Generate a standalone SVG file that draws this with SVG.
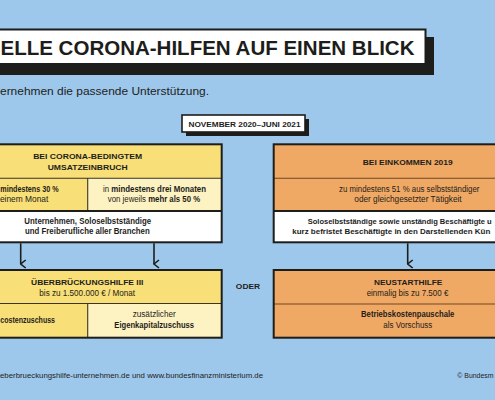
<svg xmlns="http://www.w3.org/2000/svg" width="495" height="400" viewBox="0 0 495 400">
<defs>
<style>
text{font-family:"Liberation Sans",Arial,sans-serif;fill:#1d1d1b}
.h{font-weight:bold;font-size:7.6px}
.t{font-size:8.4px}
.b{font-weight:bold}
.sb{font-weight:bold;font-size:8.2px}
.c{text-anchor:middle}
.outer{fill:none;stroke:#1d1d1b;stroke-width:2}
.div{stroke:#3b3526;stroke-width:1.1;fill:none}
.divo{stroke:#6e4827;stroke-width:1.1;fill:none}
.yel{fill:#f8df77}
.cre{fill:#fdf2c1}
.ora{fill:#f0a964}
.wht{fill:#ffffff}
.arr{stroke:#1d1d1b;stroke-width:1.6;fill:none}
</style>
<marker id="ah" viewBox="0 0 10 10" refX="5" refY="9" markerWidth="10" markerHeight="10" markerUnits="userSpaceOnUse" orient="auto-start-reverse">
<path d="M1,4 L5,9 L9,4" fill="none" stroke="#1d1d1b" stroke-width="1.6"/>
</marker>
</defs>
<rect x="0" y="0" width="495" height="400" fill="#9dc8ec"/>

<g id="title">
<rect x="-10" y="37" width="444" height="38" fill="#1d1d1b"/>
<rect x="-10" y="29.5" width="435.5" height="34.5" fill="#ffffff" stroke="#1d1d1b" stroke-width="2"/>
<text x="0.5" y="55" font-size="20.5" font-weight="bold" textLength="414" lengthAdjust="spacingAndGlyphs">ELLE CORONA-HILFEN AUF EINEN BLICK</text>
</g>

<g id="subtitle">
<text x="0" y="95" font-size="10.5" textLength="209" lengthAdjust="spacingAndGlyphs">ernehmen die passende Unterstützung.</text>
</g>

<g id="period">
<rect x="186" y="119" width="123" height="17" fill="#1d1d1b"/>
<rect x="182" y="115" width="123" height="17" fill="#ffffff" stroke="#1d1d1b" stroke-width="1.6"/>
<text class="h c" x="244.5" y="126.8" textLength="112" lengthAdjust="spacingAndGlyphs">NOVEMBER 2020–JUNI 2021</text>
</g>

<g id="corona-bedingt">
<rect class="yel" x="-46" y="144.3" width="268" height="34"/>
<rect class="yel" x="-46" y="178.3" width="133.7" height="32.7"/>
<rect class="cre" x="87.7" y="178.3" width="134" height="32.7"/>
<rect class="wht" x="-46" y="211" width="268" height="31.3"/>
<line class="div" x1="-46" y1="178.3" x2="221.7" y2="178.3"/>
<line class="div" x1="87.7" y1="178.3" x2="87.7" y2="211"/>
<line class="outer" x1="-46" y1="211" x2="221.7" y2="211"/>
<rect class="outer" x="-46" y="144.3" width="267.7" height="98"/>
<text class="h c" x="87.7" y="159" textLength="109" lengthAdjust="spacingAndGlyphs">BEI CORONA-BEDINGTEM</text>
<text class="h c" x="87.7" y="169.5" textLength="80" lengthAdjust="spacingAndGlyphs">UMSATZEINBRUCH</text>
<text class="t b" x="0.3" y="191.7" textLength="58.3" lengthAdjust="spacingAndGlyphs">mindestens 30 %</text>
<text class="t" x="48.3" y="202.3" text-anchor="end">einem Monat</text>
<text class="t c" x="154.5" y="191.7" textLength="103" lengthAdjust="spacingAndGlyphs">in <tspan class="b">mindestens drei Monaten</tspan></text>
<text class="t c" x="154" y="202.3" textLength="92.3" lengthAdjust="spacingAndGlyphs">von jeweils <tspan class="b">mehr als 50 %</tspan></text>
<text class="sb c" x="87.7" y="223.5" textLength="126.7" lengthAdjust="spacingAndGlyphs">Unternehmen, Soloselbstständige</text>
<text class="sb c" x="87.4" y="234.2" textLength="124.7" lengthAdjust="spacingAndGlyphs">und Freiberufliche aller Branchen</text>
</g>

<g id="einkommen">
<rect class="ora" x="273.7" y="144.3" width="268" height="66.7"/>
<rect class="wht" x="273.7" y="211" width="268" height="31.3"/>
<line class="divo" x1="273.7" y1="178.3" x2="541.7" y2="178.3"/>
<line class="outer" x1="273.7" y1="211" x2="541.7" y2="211"/>
<rect class="outer" x="273.7" y="144.3" width="268" height="98"/>
<text class="h c" x="407.7" y="165" textLength="90" lengthAdjust="spacingAndGlyphs">BEI EINKOMMEN 2019</text>
<text class="t c" x="409.2" y="191.7" textLength="140.3" lengthAdjust="spacingAndGlyphs">zu mindestens 51 % aus selbstständiger</text>
<text class="t c" x="408" y="202.3" textLength="107.3" lengthAdjust="spacingAndGlyphs">oder gleichgesetzter Tätigkeit</text>
<text x="307.7" y="223.5" font-weight="bold" font-size="7.5" textLength="184" lengthAdjust="spacingAndGlyphs">Soloselbstständige sowie unständig Beschäftigte u</text>
<text x="292.3" y="234.2" font-weight="bold" font-size="7.9" textLength="198" lengthAdjust="spacingAndGlyphs">kurz befristet Beschäftigte in den Darstellenden Kün</text>
</g>

<g id="connectors">
<line class="arr" x1="20.7" y1="243.3" x2="20.7" y2="264" marker-end="url(#ah)"/>
<line class="arr" x1="154" y1="243.3" x2="154" y2="264" marker-end="url(#ah)"/>
<line class="arr" x1="407.7" y1="243.3" x2="407.7" y2="264" marker-end="url(#ah)"/>
</g>

<g id="ueberbrueckungshilfe">
<rect class="yel" x="-46" y="270" width="268" height="33.5"/>
<rect class="yel" x="-46" y="303.5" width="133.7" height="34.2"/>
<rect class="cre" x="87.7" y="303.5" width="134" height="34.2"/>
<line class="div" x1="-46" y1="303.5" x2="221.7" y2="303.5"/>
<line class="div" x1="87.7" y1="303.5" x2="87.7" y2="337.7"/>
<rect class="outer" x="-46" y="270" width="267.7" height="67.7"/>
<text class="h c" x="87.2" y="285" textLength="112.3" lengthAdjust="spacingAndGlyphs">ÜBERBRÜCKUNGSHILFE III</text>
<text class="t c" x="87.2" y="295.8" textLength="95.7" lengthAdjust="spacingAndGlyphs">bis zu 1.500.000 € / Monat</text>
<text class="sb" x="0.3" y="323.3" textLength="54.7" lengthAdjust="spacingAndGlyphs">costenzuschuss</text>
<text class="t c" x="154.2" y="316.8" textLength="43" lengthAdjust="spacingAndGlyphs">zusätzlicher</text>
<text class="sb c" x="154.2" y="327.8" textLength="79.7" lengthAdjust="spacingAndGlyphs">Eigenkapitalzuschuss</text>
</g>

<g id="oder">
<text class="h c" x="248" y="289" textLength="24.3" lengthAdjust="spacingAndGlyphs">ODER</text>
</g>

<g id="neustarthilfe">
<rect class="ora" x="273.7" y="270" width="268" height="67.7"/>
<line class="divo" x1="273.7" y1="304" x2="541.7" y2="304"/>
<rect class="outer" x="273.7" y="270" width="268" height="67.7"/>
<text class="h c" x="408.2" y="285" textLength="68.3" lengthAdjust="spacingAndGlyphs">NEUSTARTHILFE</text>
<text class="t c" x="407.5" y="295.8" textLength="81.7" lengthAdjust="spacingAndGlyphs">einmalig bis zu 7.500 €</text>
<text class="sb c" x="407.7" y="316.8" textLength="93.3" lengthAdjust="spacingAndGlyphs">Betriebskostenpauschale</text>
<text class="t c" x="407.8" y="327.8" textLength="49" lengthAdjust="spacingAndGlyphs">als Vorschuss</text>
</g>

<g id="footer">
<text x="457.3" y="377.7" font-size="6.9">© Bundesm</text>
<text x="0" y="377.7" font-size="8" textLength="263" lengthAdjust="spacingAndGlyphs">eberbrueckungshilfe-unternehmen.de und www.bundesfinanzministerium.de</text>
</g>
</svg>
